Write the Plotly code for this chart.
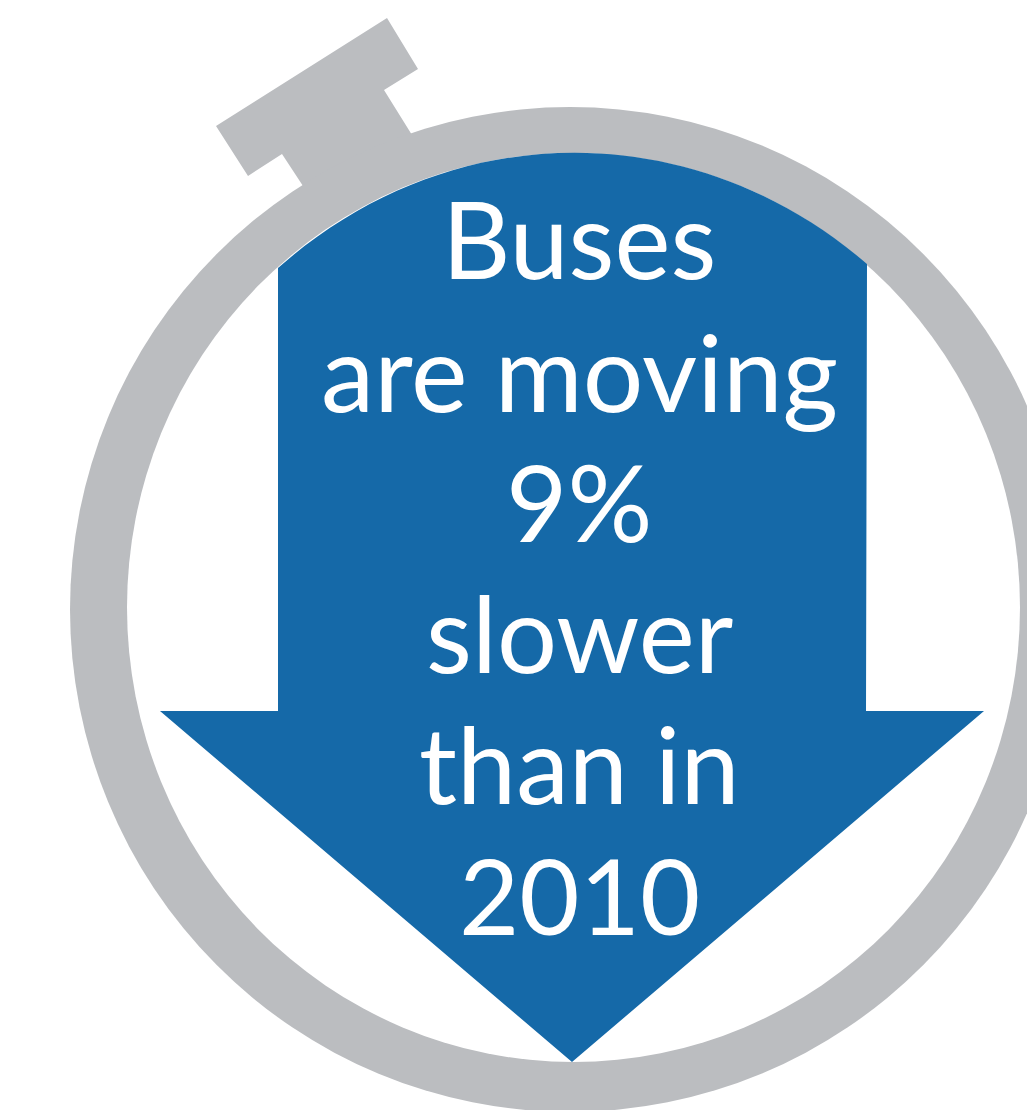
import plotly.graph_objects as go

# Wording of the callout, one entry per line, with the vertical centre of each line
text_lines = ["Buses", "are moving", "9%", "slower", "than in", "2010"]
line_centres = [238, 370, 501, 632, 763, 894]
line_sizes = [106, 107, 106, 106, 106, 104]

GREY = "#BBBDC0"
BLUE = "#1569A8"
FONT = "Lato, sans-serif"

# Stopwatch crown, drawn in page pixels
crown = ("M387 18 L418 69 L384 90 L412 135 L420 180 L303 186 "
         "L282 154 L248 176 L216 126 Z")

# Downward arrow whose top edge follows the inside of the dial
arrow = ("M278 268 C451 115 694 115 867 264 L866 711 L984 711 "
         "L572 1062 L160 711 L278 711 Z")

fig = go.Figure()
fig.update_layout(
    width=1027, height=1110,
    margin=dict(l=0, r=0, t=0, b=0),
    paper_bgcolor="white", plot_bgcolor="white",
    showlegend=False,
    xaxis=dict(range=[0, 1027], visible=False, fixedrange=True),
    yaxis=dict(range=[1110, 0], visible=False, fixedrange=True),
    shapes=[
        dict(type="path", path=crown, fillcolor=GREY, line_width=0, layer="below"),
        dict(type="circle", x0=70, x1=1070, y0=107, y1=1112, fillcolor=GREY, line_width=0, layer="below"),
        dict(type="circle", x0=127, x1=1020, y0=153, y1=1062, fillcolor="white", line_width=0, layer="below"),
        dict(type="path", path=arrow, fillcolor=BLUE, line_width=0, layer="below"),
    ],
)

# Invisible trace so the axes exist for the shapes to sit on
fig.add_trace(go.Scatter(x=[0, 1027], y=[0, 1110], mode="markers",
                         marker=dict(opacity=0), hoverinfo="skip"))

for line, centre, size in zip(text_lines, line_centres, line_sizes):
    fig.add_annotation(x=579, y=centre, text=line, showarrow=False,
                       xanchor="center", yanchor="middle",
                       font=dict(family=FONT, size=size, color="white"))

fig.write_html("out.html")
